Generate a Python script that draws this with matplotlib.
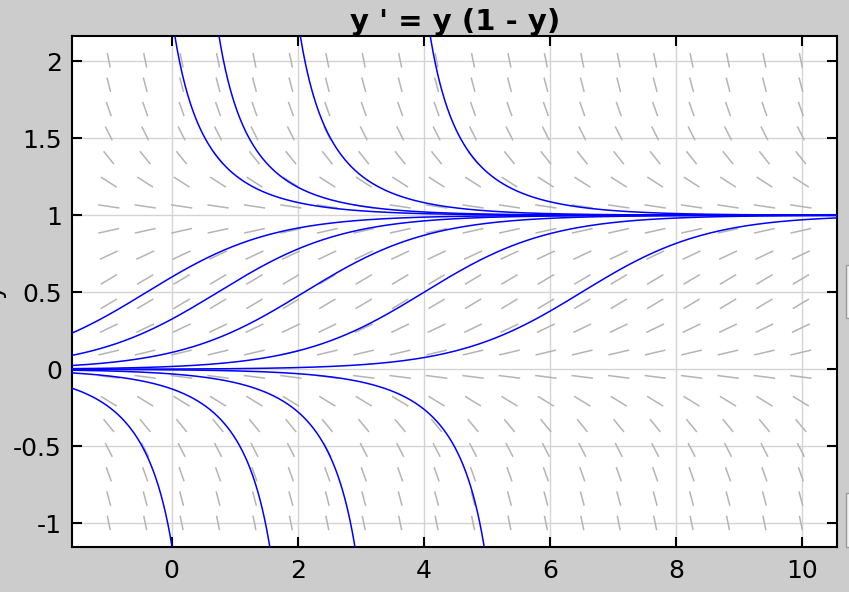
import numpy as np
import matplotlib
matplotlib.use("Agg")
import matplotlib.pyplot as plt
from matplotlib.collections import LineCollection
from matplotlib.patches import Rectangle

plt.rcParams['axes.unicode_minus'] = False

# visible window of the direction field
x_lim = (-1.576, 10.555)
y_lim = (-1.156, 2.164)

# solution curves y' = y(1-y)
sig_mid = [-0.40, 0.73, 2.10, 4.00, 6.50]      # t where the s-curve crosses y = 0.5
upper_blow = [-0.57, 0.13, 1.42, 3.48]         # t where curves above 1 blow up
lower_blow = [0.63, 2.18, 3.53, 5.58]          # t where curves below 0 blow down

x_ticks = [0, 2, 4, 6, 8, 10]
y_ticks = [-1, -0.5, 0, 0.5, 1, 1.5, 2]
y_ticklabels = ['-1', '-0.5', '0', '0.5', '1', '1.5', '2']


def f(t, y):
    return y * (1 - y)


fig = plt.figure(figsize=(8.49, 5.92), dpi=100, facecolor='#cccccc')
ax = fig.add_axes([0.0852, 0.0755, 0.9010, 0.8637])
ax.set_facecolor('white')

# direction field: 20x20 interior grid, fixed length in axes units
xr = x_lim[1] - x_lim[0]
yr = y_lim[1] - y_lim[0]
gx = np.linspace(x_lim[0], x_lim[1], 22)[1:-1]
gy = np.linspace(y_lim[0], y_lim[1], 22)[1:-1]
X, Y = np.meshgrid(gx, gy)
u = np.ones_like(X) / xr
v = f(X, Y) / yr
n = np.hypot(u, v)
half = 0.5 * 0.0285
dx = half * u / n * xr
dy = half * v / n * yr
segs = [[(x - a, y - b), (x + a, y + b)]
        for x, y, a, b in zip(X.ravel(), Y.ravel(), dx.ravel(), dy.ravel())]
ax.add_collection(LineCollection(segs, colors='#b4b4b4', linewidths=1.1, zorder=2))

# solution curves
lw = 1.1
for m in sig_mid:
    t = np.linspace(x_lim[0], x_lim[1], 600)
    ax.plot(t, 1 / (1 + np.exp(-(t - m))), color='blue', lw=lw, zorder=3)
for b in upper_blow:
    t = np.linspace(b + 0.25, x_lim[1], 800)
    ax.plot(t, 1 / (1 - np.exp(-(t - b))), color='blue', lw=lw, zorder=3)
for b in lower_blow:
    t = np.linspace(x_lim[0], b - 0.25, 800)
    ax.plot(t, 1 / (1 - np.exp(-(t - b))), color='blue', lw=lw, zorder=3)

ax.set_xlim(*x_lim)
ax.set_ylim(*y_lim)
ax.set_xticks(x_ticks)
ax.set_yticks(y_ticks)
ax.set_yticklabels(y_ticklabels)
ax.grid(True, color='#d4d4d4', lw=1, zorder=1)
ax.set_axisbelow(True)
ax.tick_params(direction='in', length=7, width=1.5, top=True, right=True,
               labelsize=18, colors='black')
ax.tick_params(axis='x', pad=8.5)
ax.tick_params(axis='y', pad=7.5)
for s in ax.spines.values():
    s.set_linewidth(1.5)

ax.set_title("y ' = y (1 - y)", fontsize=21, fontweight='bold', pad=4)
ax.set_ylabel('y', fontsize=18)
ax.yaxis.set_label_coords(-0.0865, 0.5)

# bits of widgets peeking in at the right edge
for yb, hb in [(265, 53), (493, 54)]:
    fig.patches.append(Rectangle((846 / 849, 1 - (yb + hb) / 592), 10 / 849, hb / 592,
                                 transform=fig.transFigure, facecolor='#f2f2f2',
                                 edgecolor='#9a9a9a', lw=1))

fig.savefig('out.png', dpi=100, facecolor=fig.get_facecolor())
